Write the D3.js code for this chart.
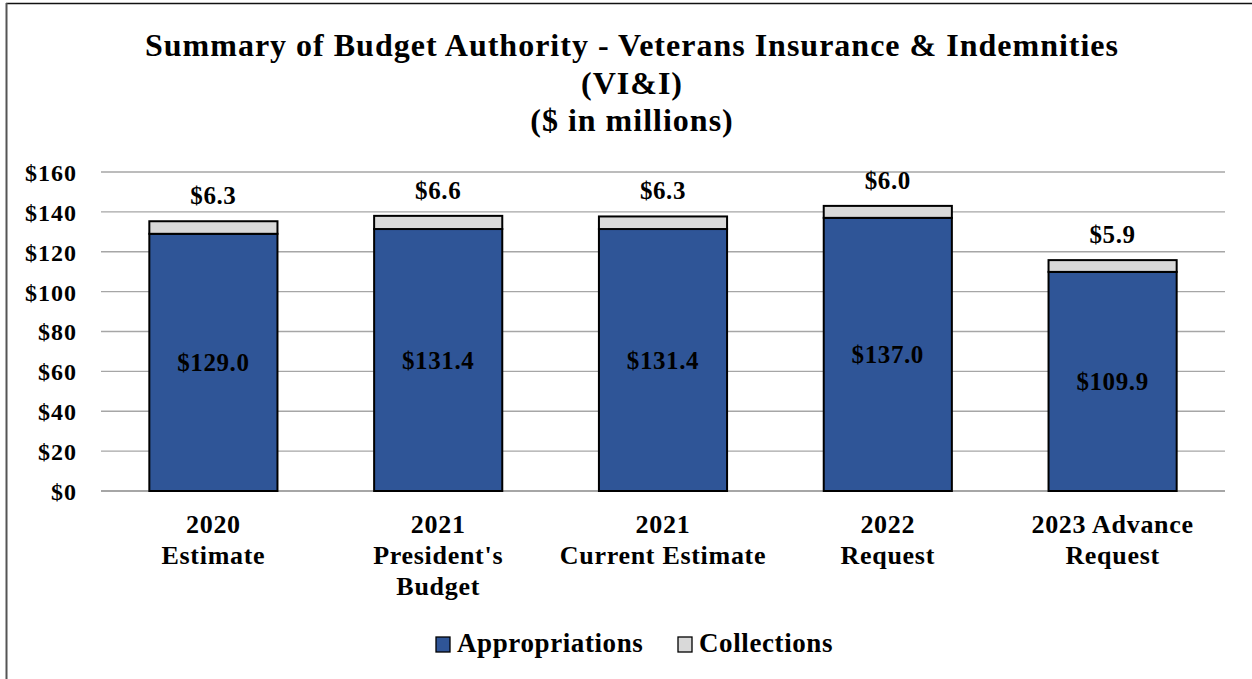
<!DOCTYPE html>
<html>
<head>
<meta charset="utf-8">
<script src="https://cdn.jsdelivr.net/npm/d3@7"></script>
<style>
  html, body { margin: 0; padding: 0; background: #fff; }
  svg { display: block; }
  text { font-family: "Liberation Serif", "DejaVu Serif", serif; font-weight: bold; fill: #000; }
</style>
</head>
<body>
<svg id="chart" width="1252" height="679"></svg>
<script>
// Budget authority by request stage ($ in millions)
const categories = [
  ["2020", "Estimate"],
  ["2021", "President's", "Budget"],
  ["2021", "Current Estimate"],
  ["2022", "Request"],
  ["2023 Advance", "Request"]
];
const appropriations = [129.0, 131.4, 131.4, 137.0, 109.9];
const collections = [6.3, 6.6, 6.3, 6.0, 5.9];
const yTicks = [0, 20, 40, 60, 80, 100, 120, 140, 160];
const seriesNames = ["Appropriations", "Collections"];
const seriesColors = ["#2F5597", "#D9D9D9"];
const titleLines = [
  "Summary of Budget Authority - Veterans Insurance & Indemnities",
  "(VI&I)",
  "($ in millions)"
];

const svg = d3.select("#chart");
const W = 1252, H = 679;
const plot = { left: 101, right: 1225, top: 172, bottom: 491 };

// outer frame (top and left edges)
svg.append("line").attr("x1", 6).attr("x2", W).attr("y1", 3.5).attr("y2", 3.5)
  .attr("stroke", "#111").attr("stroke-width", 1.6);
svg.append("line").attr("x1", 6.5).attr("x2", 6.5).attr("y1", 3).attr("y2", H)
  .attr("stroke", "#555").attr("stroke-width", 2);

// title
const titleY = [56, 94, 131];
titleLines.forEach((t, i) => {
  svg.append("text").attr("x", 632).attr("y", titleY[i])
    .attr("text-anchor", "middle").attr("font-size", 32)
    .attr("letter-spacing", 1).text(t);
});

const x = d3.scaleBand()
  .domain(d3.range(categories.length))
  .range([plot.left, plot.right])
  .paddingInner(0.43).paddingOuter(0.215);

const y = d3.scaleLinear().domain([0, 160]).range([plot.bottom, plot.top]);

// gridlines
svg.append("g").selectAll("line").data(yTicks).join("line")
  .attr("x1", plot.left).attr("x2", plot.right)
  .attr("y1", d => y(d)).attr("y2", d => y(d))
  .attr("stroke", "#A6A6A6")
  .attr("stroke-width", d => d === 0 ? 2.2 : 1.4);

// y axis labels
const yAxis = d3.axisLeft(y).tickValues(yTicks).tickSize(0).tickPadding(0)
  .tickFormat(d => "$" + d);
const ya = svg.append("g").attr("transform", `translate(${77},0)`).call(yAxis);
ya.select(".domain").remove();
ya.selectAll("text").attr("font-size", 24).attr("letter-spacing", 1)
  .attr("font-family", "Liberation Serif").attr("font-weight", "bold")
  .attr("fill", "#000").attr("dy", "0.35em");

// stacked data
const rows = appropriations.map((a, i) => ({ i, Appropriations: a, Collections: collections[i] }));
const stack = d3.stack().keys(seriesNames)(rows);

const g = svg.append("g");
stack.forEach((layer, li) => {
  g.append("g").selectAll("rect").data(layer).join("rect")
    .attr("x", d => x(d.data.i))
    .attr("width", x.bandwidth())
    .attr("y", d => y(d[1]))
    .attr("height", d => y(d[0]) - y(d[1]))
    .attr("fill", seriesColors[li])
    .attr("stroke", "#000").attr("stroke-width", 2);
});

// value labels: appropriations centered within segment, collections above bar
g.append("g").selectAll("text").data(stack[0]).join("text")
  .attr("x", d => x(d.data.i) + x.bandwidth() / 2)
  .attr("y", d => (y(d[0]) + y(d[1])) / 2)
  .attr("dy", "0.35em").attr("text-anchor", "middle")
  .attr("font-size", 25).attr("letter-spacing", 0.6)
  .text(d => "$" + d.data.Appropriations.toFixed(1));

g.append("g").selectAll("text").data(stack[1]).join("text")
  .attr("x", d => x(d.data.i) + x.bandwidth() / 2)
  .attr("y", d => y(d[1]) - 17)
  .attr("text-anchor", "middle")
  .attr("font-size", 25).attr("letter-spacing", 0.6)
  .text(d => "$" + d.data.Collections.toFixed(1));

// category labels
const cat = svg.append("g").selectAll("text").data(categories).join("text")
  .attr("text-anchor", "middle").attr("font-size", 26).attr("letter-spacing", 0.7)
  .attr("transform", (d, i) => `translate(${x(i) + x.bandwidth() / 2},533)`);
cat.selectAll("tspan").data(d => d).join("tspan")
  .attr("x", 0).attr("y", (d, j) => j * 31).text(d => d);

// legend
const legendItems = [
  { name: seriesNames[0], color: seriesColors[0], x: 436 },
  { name: seriesNames[1], color: seriesColors[1], x: 678 }
];
const lg = svg.append("g").selectAll("g").data(legendItems).join("g")
  .attr("transform", d => `translate(${d.x},637)`);
lg.append("rect").attr("x", 0).attr("y", 0).attr("width", 14).attr("height", 15)
  .attr("fill", d => d.color).attr("stroke", "#000").attr("stroke-width", 1.3);
lg.append("text").attr("x", 21).attr("y", 15)
  .attr("font-size", 27).attr("letter-spacing", 0.6).text(d => d.name);
</script>
</body>
</html>
